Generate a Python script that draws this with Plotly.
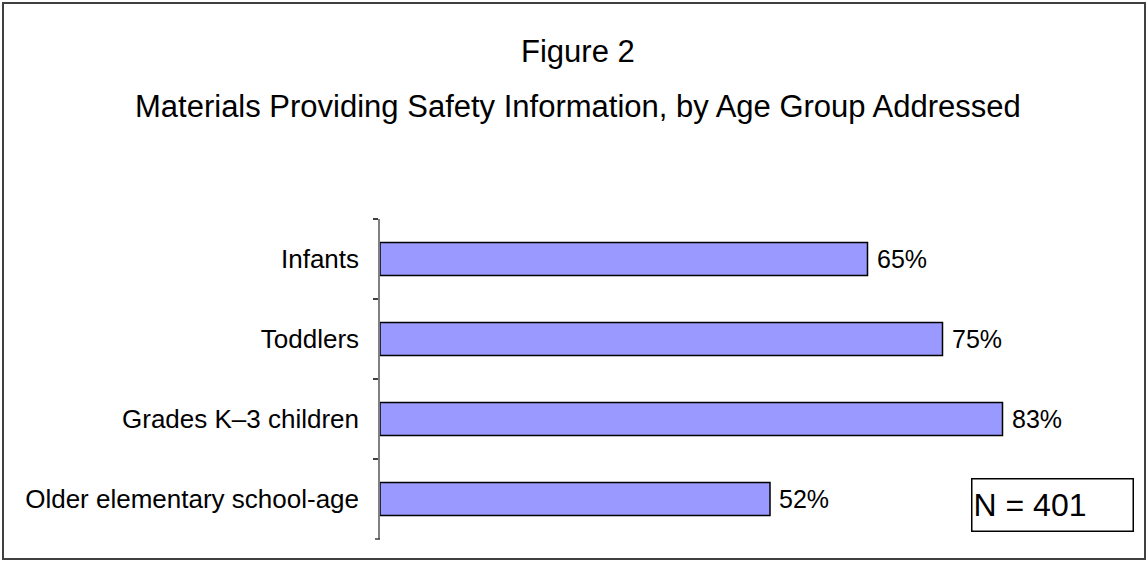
import plotly.graph_objects as go

categories = ["Infants", "Toddlers", "Grades K\u20133 children", "Older elementary school-age"]
values = [65, 75, 83, 52]
labels = ["65%", "75%", "83%", "52%"]
title_text = "Figure 2"
subtitle_text = "Materials Providing Safety Information, by Age Group Addressed"
n_text = "N = 401"

W, H = 1148, 561
L, R, T, B = 380, 18, 219, 22
pw, ph = W - L - R, H - T - B
FONT = "Liberation Sans, Arial, sans-serif"

def px_x(x):
    return (x - L) / pw

def px_y(y):
    return (H - B - y) / ph

fig = go.Figure()
fig.add_trace(go.Bar(
    x=values, y=categories, orientation="h",
    marker=dict(color="#9999FF", line=dict(color="black", width=1.5)),
    hoverinfo="skip",
))

for c, v, t in zip(categories, values, labels):
    fig.add_annotation(x=v, y=c, xref="x", yref="y", text=t, showarrow=False,
                       xanchor="left", yanchor="middle", xshift=7,
                       font=dict(family=FONT, size=25, color="black"))

fig.add_annotation(xref="paper", yref="paper", x=px_x(578), y=px_y(52),
                   text=title_text, showarrow=False, xanchor="center", yanchor="middle",
                   font=dict(family=FONT, size=31, color="black"))
fig.add_annotation(xref="paper", yref="paper", x=px_x(578), y=px_y(106),
                   text=subtitle_text, showarrow=False, xanchor="center", yanchor="middle",
                   font=dict(family=FONT, size=31, color="black"))

fig.add_annotation(xref="paper", yref="paper", x=px_x(971), y=px_y(478),
                   text=n_text, showarrow=False, xanchor="left", yanchor="top",
                   width=158, height=49, align="left", valign="middle",
                   bordercolor="black", borderwidth=1.5, borderpad=1, bgcolor="white",
                   font=dict(family=FONT, size=32, color="black"))

fig.add_shape(type="rect", xref="paper", yref="paper",
              x0=px_x(3), x1=px_x(1145), y0=px_y(559), y1=px_y(3),
              line=dict(color="#404040", width=2), layer="below")

# bottom boundary tick of the category axis
fig.add_shape(type="line", xref="paper", yref="paper",
              x0=px_x(375), x1=px_x(380), y0=0, y1=0,
              line=dict(color="#404040", width=1.5))

fig.update_layout(
    width=W, height=H,
    margin=dict(l=L, r=R, t=T, b=B, pad=0),
    paper_bgcolor="white", plot_bgcolor="white",
    showlegend=False, bargap=0.59,
    font=dict(family=FONT, color="black"),
    xaxis=dict(range=[0, 100], visible=False, fixedrange=True),
    yaxis=dict(type="category", categoryorder="array", categoryarray=categories,
               range=[3.5, -0.5], showline=True, linecolor="#808080", linewidth=1.5,
               ticks="outside", tickson="boundaries", ticklen=5, tickcolor="#404040", tickwidth=1.5,
               ticklabelstandoff=14, showgrid=False, zeroline=False,
               tickfont=dict(family=FONT, size=26, color="black")),
)

fig.write_html("out.html")
